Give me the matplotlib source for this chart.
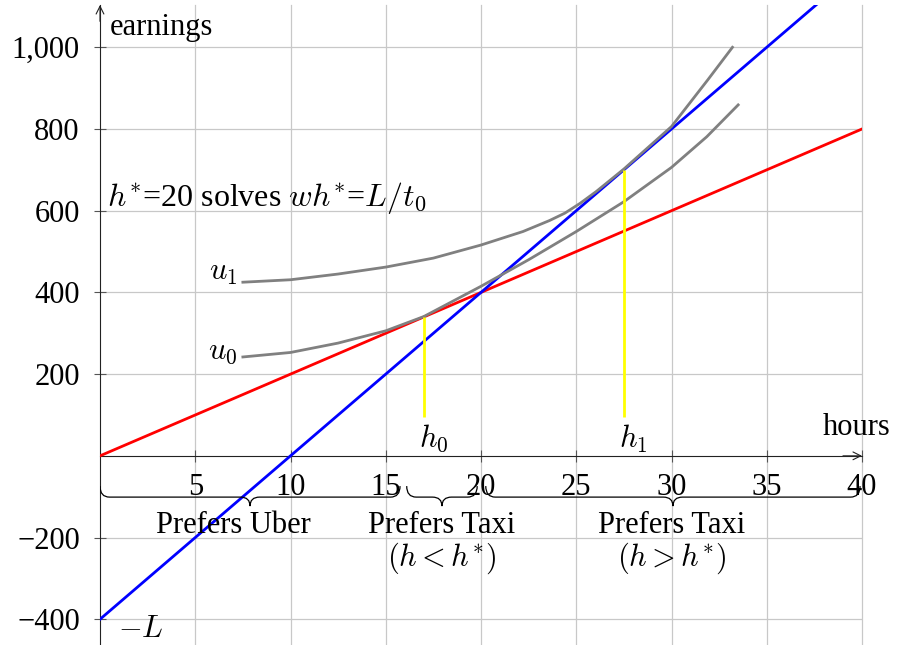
import numpy as np
import matplotlib
matplotlib.use("Agg")
import matplotlib.pyplot as plt
from matplotlib.path import Path
from matplotlib.patches import PathPatch

plt.rcParams['font.family'] = ['Liberation Serif', 'DejaVu Serif']
plt.rcParams['mathtext.fontset'] = 'cm'

# budget lines (hours -> earnings)
line_hours = [0, 40]
taxi_earn = [0, 800]          # red: w*h
uber_earn = [-400, 1200]      # blue: -L + (L/t0)*h

# indifference curves
u0_hours = [7.5, 10, 12.5, 15, 17, 20, 22.5, 25, 27.5, 30, 31.85, 33.5]
u0_earn = [242, 253, 276, 306, 341, 415, 480, 549, 622, 706, 781, 859]
u1_hours = [7.5, 10, 12.5, 15, 17.5, 20, 22.2, 23.6, 24.4, 25.2, 26.05, 27.5, 30, 31.9, 33.2]
u1_earn = [425, 431, 445, 462, 484, 516, 549, 576, 594, 618, 647, 702, 806, 920, 1000]

# optimal hours (yellow markers)
h_opt = [17, 27.5]
h_opt_earn = [340, 700]
h_names = [r'$h_0$', r'$h_1$']

# regions under the axis
brace_ranges = [(0, 15.75), (16.1, 19.8), (20.25, 39.9)]
region_labels = ['Prefers Uber', 'Prefers Taxi', 'Prefers Taxi']
region_sub = ['', r'$(h<h^{*})$', r'$(h>h^{*})$']
region_x = [7.0, 17.95, 30.0]

xticks = [5, 10, 15, 20, 25, 30, 35, 40]
yticks = [-400, -200, 200, 400, 600, 800, 1000]

FS = 22
YMIN, YMAX = -463, 1103.5

fig = plt.figure(figsize=(9.07, 6.45), dpi=100)
ax = fig.add_axes([100 / 907, 0, 762 / 907, 640 / 645])
ax.set_xlim(0, 40)
ax.set_ylim(YMIN, YMAX)

for s in ['top', 'right']:
    ax.spines[s].set_visible(False)
ax.spines['left'].set_position(('data', 0))
ax.spines['bottom'].set_position(('data', 0))
for s in ['left', 'bottom']:
    ax.spines[s].set_color('#222222')
    ax.spines[s].set_linewidth(0.8)

ax.set_xticks(xticks)
ax.set_yticks(yticks)
ax.set_xticklabels([str(v) for v in xticks])
ax.set_yticklabels([f"{v:,}".replace('-', '\u2212') for v in yticks])
ax.tick_params(axis='both', direction='inout', length=8, width=0.8,
               color='#555555', labelsize=FS)
ax.tick_params(axis='x', pad=8.5)
ax.tick_params(axis='y', pad=10.5)
ax.grid(True, color='#c8c8c8', lw=0.9)
ax.set_axisbelow(True)
for gl in ax.get_xgridlines():
    gl.set_clip_on(False)

# axis arrows
arrow = dict(arrowstyle='->', lw=0.8, color='#222222', shrinkA=0, shrinkB=0,
             mutation_scale=14)
ax.annotate('', xy=(40, 0), xytext=(39, 0), arrowprops=arrow, annotation_clip=False)
ax.annotate('', xy=(0, YMAX), xytext=(0, YMAX - 40), arrowprops=arrow,
            annotation_clip=False)

ax.plot(line_hours, taxi_earn, color='red', lw=2, zorder=3)
ax.plot(line_hours, uber_earn, color='blue', lw=2, zorder=3)
ax.plot(u0_hours, u0_earn, color='gray', lw=2, zorder=4, solid_joinstyle='round')
ax.plot(u1_hours, u1_earn, color='gray', lw=2, zorder=4, solid_joinstyle='round')
ax.vlines(h_opt, 95, h_opt_earn, color='yellow', lw=2, zorder=5)

for h, name in zip(h_opt, h_names):
    ax.text(h + 0.5, 42, name, fontsize=FS, ha='center', va='center')

ax.text(7.2, 449, r'$u_1$', fontsize=FS, ha='right', va='center')
ax.text(7.2, 255, r'$u_0$', fontsize=FS, ha='right', va='center')
ax.text(0.5, 1030, 'earnings', fontsize=FS, ha='left', va='baseline')
ax.text(37.95, 51, 'hours', fontsize=FS, ha='left', va='baseline', clip_on=False)
ax.text(0.95, -424, r'$-L$', fontsize=FS, ha='left', va='center')
ax.text(0.35, 612, r'$h^{*}$=20 solves $wh^{*}$=$L/t_0$', fontsize=23,
        ha='left', va='baseline')


def brace(x0, x1, y_end=-74, y_arm=-101, y_tip=-123, w=0.5):
    xm = (x0 + x1) / 2
    verts = [(x0, y_end), (x0, y_arm), (x0 + w, y_arm),
             (xm - w, y_arm), (xm, y_arm), (xm, y_tip),
             (xm, y_arm), (xm + w, y_arm),
             (x1 - w, y_arm), (x1, y_arm), (x1, y_end)]
    codes = [Path.MOVETO, Path.CURVE3, Path.CURVE3,
             Path.LINETO, Path.CURVE3, Path.CURVE3,
             Path.CURVE3, Path.CURVE3,
             Path.LINETO, Path.CURVE3, Path.CURVE3]
    ax.add_patch(PathPatch(Path(verts, codes), fill=False, lw=0.9,
                           edgecolor='black', zorder=3))


for (a, b), lab, sub, xc in zip(brace_ranges, region_labels, region_sub, region_x):
    brace(a, b)
    ax.text(xc, -188, lab, fontsize=FS, ha='center', va='baseline')
    if sub:
        ax.text(xc, -250, sub, fontsize=FS, ha='center', va='center')

fig.savefig('out.png', dpi=100)
